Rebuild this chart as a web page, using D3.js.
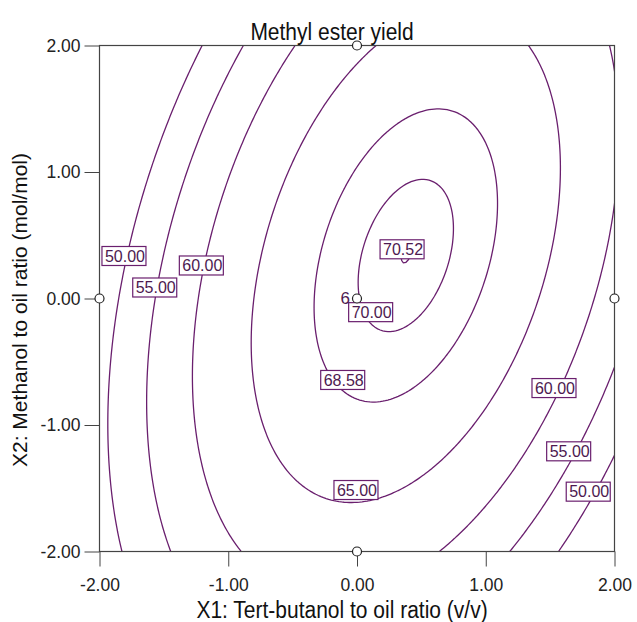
<!DOCTYPE html>
<html lang="en">
<head>
<meta charset="UTF-8">
<title>Methyl ester yield</title>
<script src="https://d3js.org/d3.v7.min.js"></script>
<style>
  body { margin: 0; background: #fff; font-family: "Liberation Sans", Arial, sans-serif; }
  .axis text { font-size: 17.5px; fill: #222; font-family: "Liberation Sans", Arial, sans-serif; }
  .axis path { display: none; }
  .axis line { stroke: #444; }
</style>
</head>
<body>
<div id="chart"></div>
<script>
// Fitted quadratic response surface (coded units)
const coefTerms = ["b0", "X1", "X2", "X1X2", "X1^2", "X2^2"];
const coefValues = [69.95, 2.672, 0.404, 1.906, -4.38, -1.656];

// Contour levels drawn
const levels = [50, 55, 60, 65, 68.58, 70, 70.52];

// Contour labels (text and where they sit, in coded units)
const labelText = ["50.00", "55.00", "60.00", "70.52", "70.00", "68.58", "65.00", "60.00", "55.00", "50.00"];
const labelX1 = [-1.81, -1.571, -1.209, 0.35, 0.106, -0.111, -0.008, 1.53, 1.644, 1.796];
const labelX2 = [0.336, 0.087, 0.261, 0.389, -0.108, -0.644, -1.514, -0.708, -1.208, -1.527];

// Design points on the plane
const designX1 = [0, 0, -2, 2, 0];
const designX2 = [2, -2, 0, 0, 0];
const centerReplicates = 6;

const axisTicks = [-2, -1, 0, 1, 2];

const W = 637, H = 622;
const margin = { top: 45.5, right: 22.5, bottom: 70.5, left: 99.5 };
const width = W - margin.left - margin.right;
const height = H - margin.top - margin.bottom;

const purple = "#6a1f6e";

// plain hyphen for negatives, like the original
const fmt = d3.formatLocale({ decimal: ".", thousands: ",", grouping: [3], currency: ["", ""], minus: "-" }).format(".2f");

const svg = d3.select("#chart").append("svg")
  .attr("width", W)
  .attr("height", H);

const x = d3.scaleLinear().domain([-2, 2]).range([0, width]);
const y = d3.scaleLinear().domain([-2, 2]).range([height, 0]);

const chart = svg.append("g")
  .attr("transform", `translate(${margin.left},${margin.top})`);

svg.append("defs").append("clipPath").attr("id", "plotclip")
  .append("rect").attr("width", width).attr("height", height);

// model evaluation
function model(a, b) {
  const c = coefValues;
  return c[0] + c[1] * a + c[2] * b + c[3] * a * b + c[4] * a * a + c[5] * b * b;
}

// grid a bit larger than the plot so edge artefacts get clipped away
const g0 = -2.3, g1 = 2.3, n = 231;
const step = (g1 - g0) / (n - 1);
const grid = new Array(n * n);
for (let j = 0; j < n; j++) {
  for (let i = 0; i < n; i++) {
    grid[j * n + i] = model(g0 + i * step, g0 + j * step);
  }
}

const contours = d3.contours().size([n, n]).thresholds(levels)(grid);

const toPixels = d3.geoTransform({
  point: function(px, py) {
    this.stream.point(x(g0 + (px - 0.5) * step), y(g0 + (py - 0.5) * step));
  }
});
const path = d3.geoPath(toPixels);

chart.append("g")
  .attr("clip-path", "url(#plotclip)")
  .selectAll("path")
  .data(contours)
  .join("path")
  .attr("d", path)
  .attr("fill", "none")
  .attr("stroke", purple)
  .attr("stroke-width", 1.3);

// axes
chart.append("g")
  .attr("class", "axis")
  .attr("transform", `translate(0,${height})`)
  .call(d3.axisBottom(x).tickValues(axisTicks).tickFormat(fmt)
    .tickSize(15).tickSizeOuter(0).tickPadding(12));

chart.append("g")
  .attr("class", "axis")
  .call(d3.axisLeft(y).tickValues(axisTicks).tickFormat(fmt)
    .tickSize(15).tickSizeOuter(0).tickPadding(4));

chart.append("rect")
  .attr("width", width)
  .attr("height", height)
  .attr("fill", "none")
  .attr("stroke", "#444")
  .attr("stroke-width", 1.2);

// contour labels
const labels = chart.append("g").selectAll("g")
  .data(labelText.map((t, i) => ({ t, a: labelX1[i], b: labelX2[i] })))
  .join("g")
  .attr("transform", d => `translate(${x(d.a)},${y(d.b)})`);

labels.append("rect")
  .attr("x", -22).attr("y", -9.5)
  .attr("width", 44).attr("height", 19)
  .attr("fill", "#fff")
  .attr("stroke", purple)
  .attr("stroke-width", 1.2);

labels.append("text")
  .attr("text-anchor", "middle")
  .attr("dy", "0.36em")
  .attr("x", 1)
  .style("font-size", "16px")
  .style("fill", "#4d1a50")
  .text(d => d.t);

// design points
chart.append("text")
  .attr("x", x(0) - 7)
  .attr("y", y(0) + 5)
  .attr("text-anchor", "end")
  .style("font-size", "17px")
  .style("fill", "#4d1a50")
  .text(centerReplicates);

chart.selectAll(".dp")
  .data(designX1.map((a, i) => [a, designX2[i]]))
  .join("circle")
  .attr("class", "dp")
  .attr("cx", d => x(d[0]))
  .attr("cy", d => y(d[1]))
  .attr("r", 4.5)
  .attr("fill", "#fff")
  .attr("stroke", "#222")
  .attr("stroke-width", 1.2);

// titles
svg.append("text")
  .attr("transform", "translate(332,40) scale(1,1.15)")
  .attr("text-anchor", "middle")
  .style("font-size", "21px")
  .style("fill", "#111")
  .text("Methyl ester yield");

svg.append("text")
  .attr("transform", "translate(342,618) scale(1,1.1)")
  .attr("text-anchor", "middle")
  .style("font-size", "21px")
  .style("fill", "#111")
  .text("X1: Tert-butanol to oil ratio (v/v)");

svg.append("text")
  .attr("transform", "translate(27,310) rotate(-90)")
  .attr("text-anchor", "middle")
  .style("font-size", "21px")
  .style("fill", "#111")
  .text("X2: Methanol to oil ratio (mol/mol)");
</script>
</body>
</html>
